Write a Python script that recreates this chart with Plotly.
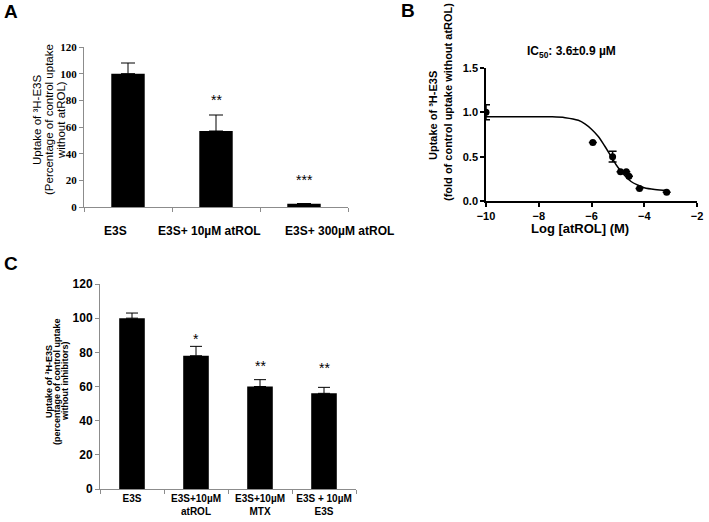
import plotly.graph_objects as go

W, H = 709, 522

# Panel A: E3S uptake with atROL
a_labels = ["E3S", "E3S+ 10µM atROL", "E3S+ 300µM atROL"]
a_values = [100, 57, 2.5]
a_err = [8, 12, None]
a_stars = ["", "**", "***"]
a_star_y = [None, 80, 20]
a_label_shift = [-13, -7, 35]  # tick text offsets as drawn in the original

# Panel B: concentration-response of atROL
b_logc = [-10, -5.95, -5.2, -4.9, -4.68, -4.58, -4.18, -3.15]
b_uptake = [1.0, 0.66, 0.50, 0.33, 0.33, 0.28, 0.14, 0.10]
b_err = [0.085, None, 0.06, None, None, None, None, None]
b_fit_x = [-10, -9, -8, -7.5, -7, -6.5, -6.25, -6, -5.75, -5.5, -5.25, -5, -4.75, -4.5, -4.25, -4, -3.6, -3.15]
b_fit_y = [0.95, 0.95, 0.95, 0.95, 0.94, 0.91, 0.87, 0.81, 0.73, 0.62, 0.50, 0.38, 0.29, 0.22, 0.18, 0.15, 0.13, 0.12]

# Panel C: E3S uptake with inhibitors
c_labels = ["E3S", "E3S+10µM<br>atROL", "E3S+10µM<br>MTX", "E3S + 10µM<br>E3S"]
c_values = [100, 78, 60, 56]
c_err = [3, 5.5, 4, 3.5]
c_stars = ["", "*", "**", "**"]
c_star_y = [None, 88, 72, 71]

SANS = "Arial, Liberation Sans, sans-serif"
SERIF = "Times New Roman, Liberation Serif, serif"
GREY = "#8c8c8c"


def px(x):
    return x / W


def py(y):
    return 1 - y / H


fig = go.Figure()

fig.add_trace(go.Bar(x=a_labels, y=a_values, width=0.38, marker=dict(color="black", line=dict(width=0)),
                     error_y=dict(type="data", array=a_err, arrayminus=[0, 0, 0], symmetric=False,
                                  color="black", thickness=1, width=7),
                     xaxis="x", yaxis="y", showlegend=False))

fig.add_trace(go.Scatter(x=b_fit_x, y=b_fit_y, mode="lines", line=dict(color="black", width=1.5, shape="spline"),
                         xaxis="x2", yaxis="y2", showlegend=False))
fig.add_trace(go.Scatter(x=b_logc, y=b_uptake, mode="markers", marker=dict(color="black", size=7),
                         error_y=dict(type="data", array=b_err, color="black", thickness=1.5, width=4),
                         xaxis="x2", yaxis="y2", showlegend=False))

fig.add_trace(go.Bar(x=c_labels, y=c_values, width=0.4, marker=dict(color="black", line=dict(width=0)),
                     error_y=dict(type="data", array=c_err, arrayminus=[0, 0, 0, 0], symmetric=False,
                                  color="black", thickness=1, width=6),
                     xaxis="x3", yaxis="y3", showlegend=False))

annotations = []
for lab, s, yv in zip(a_labels, a_stars, a_star_y):
    if s:
        annotations.append(dict(x=lab, y=yv, xref="x", yref="y", text=s, showarrow=False,
                                font=dict(family=SANS, size=14, color="black")))
for lab, s, yv in zip(c_labels, c_stars, c_star_y):
    if s:
        annotations.append(dict(x=lab, y=yv, xref="x3", yref="y3", text=s, showarrow=False,
                                font=dict(family=SANS, size=14, color="black")))

# panel A category labels (drawn as annotations so they can sit where the original has them)
for lab, sh in zip(a_labels, a_label_shift):
    annotations.append(dict(x=lab, y=0, xref="x", yref="y", text=f"<b>{lab}</b>", showarrow=False,
                            xshift=sh, yanchor="top", yshift=-15,
                            font=dict(family=SANS, size=12, color="black")))


def vtext(text, x, y, size, bold=False):
    t = f"<b>{text}</b>" if bold else text
    annotations.append(dict(x=px(x), y=py(y), xref="paper", yref="paper", text=t, textangle=-90,
                            showarrow=False, xanchor="center", yanchor="middle",
                            font=dict(family=SANS, size=size, color="black")))


def htext(text, x, y, size, bold=True):
    t = f"<b>{text}</b>" if bold else text
    annotations.append(dict(x=px(x), y=py(y), xref="paper", yref="paper", text=t,
                            showarrow=False, xanchor="center", yanchor="middle",
                            font=dict(family=SANS, size=size, color="black")))


# panel letters
htext("A", 11, 12, 19)
htext("B", 408, 11, 19)
htext("C", 11, 263, 19)

# y axis titles
vtext("Uptake of ³H-E3S", 37, 120, 11.5)
vtext("(Percentage of control uptake", 49, 120, 11.5)
vtext("without atROL)", 61, 120, 11.5)

vtext("Uptake of ³H-E3S", 433, 116, 11, bold=True)
vtext("(fold of control uptake without atROL)", 448, 102, 11, bold=True)

vtext("Uptake of ³H-E3S", 49, 382, 9, bold=True)
vtext("(percentage of control uptake", 57, 382, 9, bold=True)
vtext("without inhibitors)", 65, 382, 9, bold=True)

htext("Log [atROL] (M)", 580, 229, 13)
htext("IC<sub>50</sub>: 3.6±0.9 µM", 571, 52, 12)

common = dict(automargin=False, showgrid=False, zeroline=False, tickangle=0)

fig.update_layout(
    width=W, height=H, margin=dict(l=0, r=0, t=0, b=0, autoexpand=False),
    paper_bgcolor="white", plot_bgcolor="white",
    font=dict(family=SANS, color="black"),
    annotations=annotations,
    xaxis=dict(domain=[px(84), px(348)], anchor="y", range=[-0.5, 2.5], showline=True, linecolor=GREY,
               linewidth=1, ticks="outside", tickson="boundaries", ticklen=4, tickcolor=GREY,
               showticklabels=False, **common),
    yaxis=dict(domain=[py(207), py(47)], anchor="x", range=[0, 120], dtick=20, showline=True, linecolor=GREY,
               linewidth=1, ticks="outside", ticklen=4, tickcolor=GREY,
               tickfont=dict(family=SERIF, size=11, color="black"), tickprefix="<b>", ticksuffix="</b>",
               **common),
    xaxis2=dict(domain=[px(486), px(697)], anchor="y2", range=[-10, -2], dtick=2, showline=True,
                linecolor="black", linewidth=1.5, ticks="outside", ticklen=4, tickwidth=1.5, tickcolor="black",
                tickfont=dict(family=SANS, size=11, color="black"), tickprefix="<b>", ticksuffix="</b>",
                **common),
    yaxis2=dict(domain=[py(201), py(68)], anchor="x2", range=[0, 1.5], dtick=0.5, tickformat=".1f",
                showline=True, linecolor="black", linewidth=1.5, ticks="outside", ticklen=4, tickwidth=1.5,
                tickcolor="black",
                tickfont=dict(family=SANS, size=11, color="black"), tickprefix="<b>", ticksuffix="</b>",
                **common),
    xaxis3=dict(domain=[px(100), px(356)], anchor="y3", range=[-0.5, 3.5], showline=True, linecolor=GREY,
                linewidth=1, ticks="outside", tickson="boundaries", ticklen=4, tickcolor=GREY,
                tickfont=dict(family=SANS, size=10, color="black"), tickprefix="<b>", ticksuffix="</b>",
                **common),
    yaxis3=dict(domain=[py(489), py(284)], anchor="x3", range=[0, 120], dtick=20, showline=True,
                linecolor=GREY, linewidth=1, ticks="outside", ticklen=4, tickcolor=GREY,
                tickfont=dict(family=SANS, size=12, color="black"), tickprefix="<b>", ticksuffix="</b>",
                **common),
)

# the page's default 8px body margin would shift the whole figure; drop it
fig.write_html("out.html", config={"displayModeBar": False},
               post_script="document.body.style.margin = '0px';")
